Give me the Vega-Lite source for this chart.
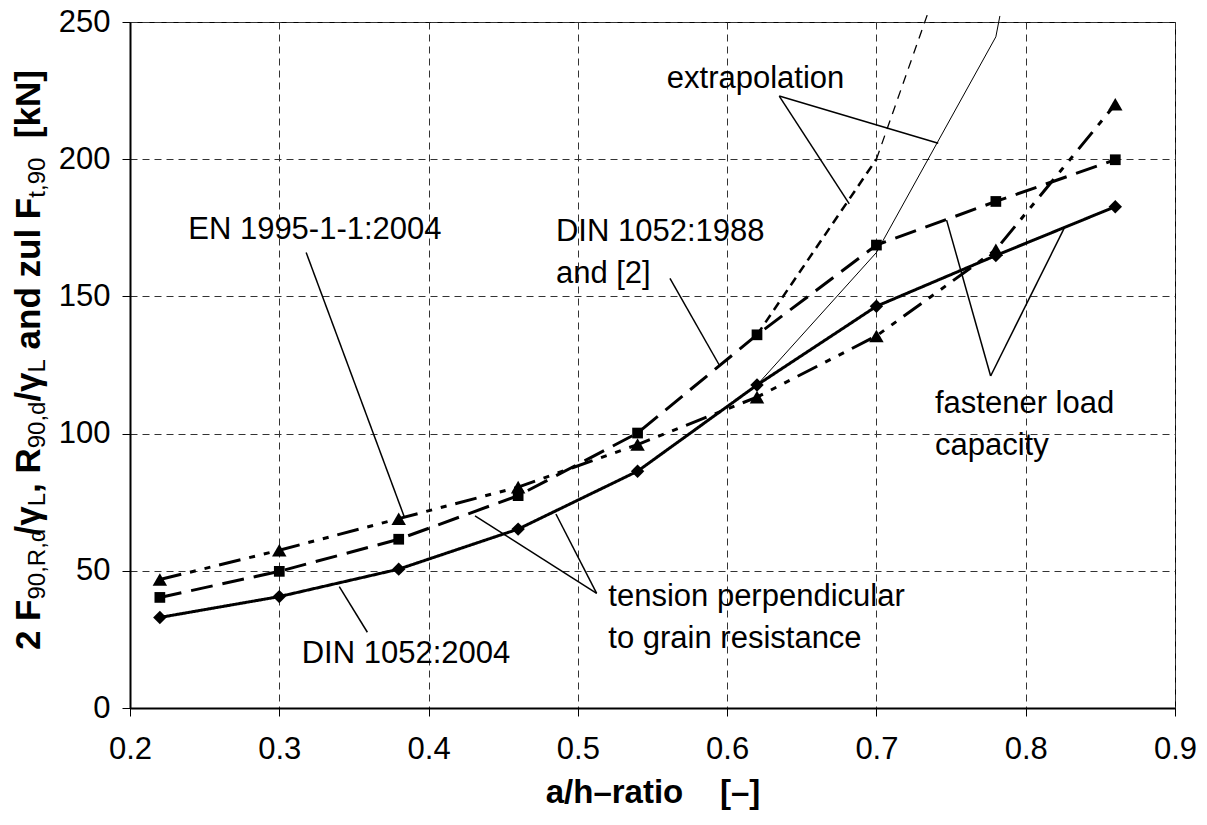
{
  "$schema": "https://vega.github.io/schema/vega-lite/v6.json",
  "width": 1045,
  "height": 686,
  "autosize": {"type": "none"},
  "padding": {"left": 130, "top": 22, "right": 32, "bottom": 117},
  "background": "white",
  "config": {
    "font": "Liberation Sans",
    "view": {"stroke": "black", "strokeWidth": 1},
    "axis": {
      "domainColor": "black", "domainWidth": 2,
      "tickColor": "black", "tickSize": 8, "tickWidth": 1,
      "labelFont": "Liberation Sans", "labelFontSize": 31, "labelColor": "black", "labelFlush": false, "labelOverlap": false,
      "grid": true, "gridColor": "#333333", "gridDash": [7, 5], "gridWidth": 1,
      "titleFont": "Liberation Sans", "titleFontSize": 33, "titleFontWeight": "bold", "titleColor": "black"
    }
  },
  "datasets": {
    "series": [
      {"s": "DIN 1052:2004", "x": 0.22, "y": 33.0},
      {"s": "DIN 1052:2004", "x": 0.30, "y": 40.6},
      {"s": "DIN 1052:2004", "x": 0.38, "y": 50.6},
      {"s": "DIN 1052:2004", "x": 0.46, "y": 65.2},
      {"s": "DIN 1052:2004", "x": 0.54, "y": 86.3},
      {"s": "DIN 1052:2004", "x": 0.62, "y": 117.7},
      {"s": "DIN 1052:2004", "x": 0.70, "y": 146.4},
      {"s": "DIN 1052:2004", "x": 0.78, "y": 164.9},
      {"s": "DIN 1052:2004", "x": 0.86, "y": 182.7},
      {"s": "DIN 1052:1988", "x": 0.22, "y": 40.3},
      {"s": "DIN 1052:1988", "x": 0.30, "y": 49.8},
      {"s": "DIN 1052:1988", "x": 0.38, "y": 61.5},
      {"s": "DIN 1052:1988", "x": 0.46, "y": 77.4},
      {"s": "DIN 1052:1988", "x": 0.54, "y": 100.2},
      {"s": "DIN 1052:1988", "x": 0.62, "y": 136.0},
      {"s": "DIN 1052:1988", "x": 0.70, "y": 168.7},
      {"s": "DIN 1052:1988", "x": 0.78, "y": 184.6},
      {"s": "DIN 1052:1988", "x": 0.86, "y": 199.8},
      {"s": "EN 1995-1-1:2004", "x": 0.22, "y": 46.8},
      {"s": "EN 1995-1-1:2004", "x": 0.30, "y": 57.5},
      {"s": "EN 1995-1-1:2004", "x": 0.38, "y": 69.0},
      {"s": "EN 1995-1-1:2004", "x": 0.46, "y": 80.5},
      {"s": "EN 1995-1-1:2004", "x": 0.54, "y": 96.0},
      {"s": "EN 1995-1-1:2004", "x": 0.62, "y": 113.3},
      {"s": "EN 1995-1-1:2004", "x": 0.70, "y": 135.6},
      {"s": "EN 1995-1-1:2004", "x": 0.78, "y": 167.0},
      {"s": "EN 1995-1-1:2004", "x": 0.86, "y": 220.0}
    ],
    "extrap": [
      {"line": "dashThick", "x": 0.62, "y": 136.0},
      {"line": "dashThick", "x": 0.70, "y": 200.0},
      {"line": "dashThin", "x": 0.70, "y": 200.0},
      {"line": "dashThin", "x": 0.734, "y": 252.5},
      {"line": "solidThin", "x": 0.62, "y": 117.7},
      {"line": "solidThin", "x": 0.70, "y": 166.0},
      {"line": "solidThin", "x": 0.78, "y": 244.6},
      {"line": "solidThin", "x": 0.7827, "y": 252.2}
    ],
    "leaders": [
      {"id": "EN", "x": 0.318, "y": 166.0, "x2": 0.3837, "y2": 69.7},
      {"id": "DIN1988", "x": 0.5617, "y": 156.6, "x2": 0.5947, "y2": 125.0},
      {"id": "DIN2004", "x": 0.3590, "y": 27.6, "x2": 0.3402, "y2": 44.2},
      {"id": "tensionA", "x": 0.5126, "y": 41.8, "x2": 0.4311, "y2": 70.0},
      {"id": "tensionB", "x": 0.5126, "y": 41.8, "x2": 0.4853, "y2": 70.7},
      {"id": "extrapA", "x": 0.6349, "y": 223.0, "x2": 0.6818, "y2": 183.7},
      {"id": "extrapB", "x": 0.6349, "y": 223.0, "x2": 0.7414, "y2": 205.8},
      {"id": "fastenerA", "x": 0.7765, "y": 121.0, "x2": 0.7470, "y2": 177.8},
      {"id": "fastenerB", "x": 0.7765, "y": 121.0, "x2": 0.8263, "y2": 175.4}
    ],
    "labels": [
      {"label": ["extrapolation"], "x": 0.5596, "y": 225.9},
      {"label": ["EN 1995-1-1:2004"], "x": 0.2390, "y": 170.9},
      {"label": ["DIN 1052:1988", "and [2]"], "x": 0.4853, "y": 170.2},
      {"label": ["DIN 1052:2004"], "x": 0.3150, "y": 16.5},
      {"label": ["tension perpendicular", "to grain resistance"], "x": 0.5204, "y": 37.3},
      {"label": ["fastener load", "capacity"], "x": 0.7392, "y": 107.4}
    ],
    "anchor": [{"k": 1}]
  },
  "layer": [
    {
      "data": {"name": "series"},
      "mark": {"type": "line", "color": "black", "strokeWidth": 3},
      "encoding": {
        "x": {
          "field": "x", "type": "quantitative",
          "scale": {"domain": [0.2, 0.9], "nice": false, "zero": false},
          "axis": {"values": [0.2, 0.3, 0.4, 0.5, 0.6, 0.7, 0.8, 0.9], "format": ".1f", "labelPadding": 18,
                   "title": "a/h\u2013ratio\u00a0\u00a0\u00a0\u00a0[\u2013]", "titlePadding": 12}
        },
        "y": {
          "field": "y", "type": "quantitative",
          "scale": {"domain": [0, 250], "nice": false, "zero": false},
          "axis": {"values": [0, 50, 100, 150, 200, 250], "labelPadding": 12, "title": null}
        },
        "detail": {"field": "s", "type": "nominal"},
        "strokeDash": {"field": "s", "type": "nominal",
          "scale": {"domain": ["DIN 1052:2004", "DIN 1052:1988", "EN 1995-1-1:2004"],
                    "range": [[1, 0], [22, 10], [22, 9, 6, 9, 6, 9]]},
          "legend": null}
      }
    },
    {
      "data": {"name": "extrap"},
      "transform": [{"filter": "datum.line === 'dashThick'"}],
      "mark": {"type": "line", "color": "black", "strokeWidth": 2.5, "strokeDash": [9, 6]},
      "encoding": {"x": {"field": "x", "type": "quantitative"}, "y": {"field": "y", "type": "quantitative"}}
    },
    {
      "data": {"name": "extrap"},
      "transform": [{"filter": "datum.line === 'dashThin'"}],
      "mark": {"type": "line", "color": "black", "strokeWidth": 1.3, "strokeDash": [9, 7]},
      "encoding": {"x": {"field": "x", "type": "quantitative"}, "y": {"field": "y", "type": "quantitative"}}
    },
    {
      "data": {"name": "extrap"},
      "transform": [{"filter": "datum.line === 'solidThin'"}],
      "mark": {"type": "line", "color": "black", "strokeWidth": 1},
      "encoding": {"x": {"field": "x", "type": "quantitative"}, "y": {"field": "y", "type": "quantitative"}}
    },
    {
      "data": {"name": "series"},
      "transform": [{"filter": "datum.s === 'DIN 1052:2004'"}],
      "mark": {"type": "point", "shape": "diamond", "filled": true, "color": "black", "opacity": 1, "size": 180},
      "encoding": {"x": {"field": "x", "type": "quantitative"}, "y": {"field": "y", "type": "quantitative"}}
    },
    {
      "data": {"name": "series"},
      "transform": [{"filter": "datum.s === 'DIN 1052:1988'"}],
      "mark": {"type": "point", "shape": "square", "filled": true, "color": "black", "opacity": 1, "size": 115},
      "encoding": {"x": {"field": "x", "type": "quantitative"}, "y": {"field": "y", "type": "quantitative"}}
    },
    {
      "data": {"name": "series"},
      "transform": [{"filter": "datum.s === 'EN 1995-1-1:2004'"}],
      "mark": {"type": "point", "shape": "triangle-up", "filled": true, "color": "black", "opacity": 1, "size": 210},
      "encoding": {"x": {"field": "x", "type": "quantitative"}, "y": {"field": "y", "type": "quantitative"}}
    },
    {
      "data": {"name": "leaders"},
      "mark": {"type": "rule", "color": "black", "strokeWidth": 1.5},
      "encoding": {
        "x": {"field": "x", "type": "quantitative"}, "y": {"field": "y", "type": "quantitative"},
        "x2": {"field": "x2"},
        "y2": {"field": "y2"}
      }
    },
    {
      "data": {"name": "labels"},
      "mark": {"type": "text", "align": "left", "baseline": "alphabetic", "fontSize": 31, "lineHeight": 42, "color": "black", "font": "Liberation Sans"},
      "encoding": {"x": {"field": "x", "type": "quantitative"}, "y": {"field": "y", "type": "quantitative"}, "text": {"field": "label"}}
    },
    {"data": {"name": "anchor"}, "mark": {"type": "text", "text": "2 F", "angle": 270, "align": "left", "baseline": "alphabetic", "fontSize": 35, "fontWeight": "bold", "dx": 0, "dy": 0, "color": "black"},
     "encoding": {"x": {"datum": 0.1397, "type": "quantitative"}, "y": {"datum": 21.1, "type": "quantitative"}}},
    {"data": {"name": "anchor"}, "mark": {"type": "text", "text": "90,R,d", "angle": 270, "align": "left", "baseline": "alphabetic", "fontSize": 24, "dx": 50.6, "dy": 5, "color": "black"},
     "encoding": {"x": {"datum": 0.1397, "type": "quantitative"}, "y": {"datum": 21.1, "type": "quantitative"}}},
    {"data": {"name": "anchor"}, "mark": {"type": "text", "text": "/\u03b3", "angle": 270, "align": "left", "baseline": "alphabetic", "fontSize": 35, "fontWeight": "bold", "dx": 114.6, "dy": 0, "color": "black"},
     "encoding": {"x": {"datum": 0.1397, "type": "quantitative"}, "y": {"datum": 21.1, "type": "quantitative"}}},
    {"data": {"name": "anchor"}, "mark": {"type": "text", "text": "L", "angle": 270, "align": "left", "baseline": "alphabetic", "fontSize": 24, "dx": 143.8, "dy": 5, "color": "black"},
     "encoding": {"x": {"datum": 0.1397, "type": "quantitative"}, "y": {"datum": 21.1, "type": "quantitative"}}},
    {"data": {"name": "anchor"}, "mark": {"type": "text", "text": ", R", "angle": 270, "align": "left", "baseline": "alphabetic", "fontSize": 35, "fontWeight": "bold", "dx": 157.1, "dy": 0, "color": "black"},
     "encoding": {"x": {"datum": 0.1397, "type": "quantitative"}, "y": {"datum": 21.1, "type": "quantitative"}}},
    {"data": {"name": "anchor"}, "mark": {"type": "text", "text": "90,d", "angle": 270, "align": "left", "baseline": "alphabetic", "fontSize": 24, "dx": 201.8, "dy": 5, "color": "black"},
     "encoding": {"x": {"datum": 0.1397, "type": "quantitative"}, "y": {"datum": 21.1, "type": "quantitative"}}},
    {"data": {"name": "anchor"}, "mark": {"type": "text", "text": "/\u03b3", "angle": 270, "align": "left", "baseline": "alphabetic", "fontSize": 35, "fontWeight": "bold", "dx": 248.5, "dy": 0, "color": "black"},
     "encoding": {"x": {"datum": 0.1397, "type": "quantitative"}, "y": {"datum": 21.1, "type": "quantitative"}}},
    {"data": {"name": "anchor"}, "mark": {"type": "text", "text": "L", "angle": 270, "align": "left", "baseline": "alphabetic", "fontSize": 24, "dx": 277.7, "dy": 5, "color": "black"},
     "encoding": {"x": {"datum": 0.1397, "type": "quantitative"}, "y": {"datum": 21.1, "type": "quantitative"}}},
    {"data": {"name": "anchor"}, "mark": {"type": "text", "text": "and zul F", "angle": 270, "align": "left", "baseline": "alphabetic", "fontSize": 35, "fontWeight": "bold", "dx": 300.7, "dy": 0, "color": "black"},
     "encoding": {"x": {"datum": 0.1397, "type": "quantitative"}, "y": {"datum": 21.1, "type": "quantitative"}}},
    {"data": {"name": "anchor"}, "mark": {"type": "text", "text": "t,90", "angle": 270, "align": "left", "baseline": "alphabetic", "fontSize": 24, "dx": 452.4, "dy": 5, "color": "black"},
     "encoding": {"x": {"datum": 0.1397, "type": "quantitative"}, "y": {"datum": 21.1, "type": "quantitative"}}},
    {"data": {"name": "anchor"}, "mark": {"type": "text", "text": "[kN]", "angle": 270, "align": "left", "baseline": "alphabetic", "fontSize": 35, "fontWeight": "bold", "dx": 511.9, "dy": 0, "color": "black"},
     "encoding": {"x": {"datum": 0.1397, "type": "quantitative"}, "y": {"datum": 21.1, "type": "quantitative"}}}
  ]
}
